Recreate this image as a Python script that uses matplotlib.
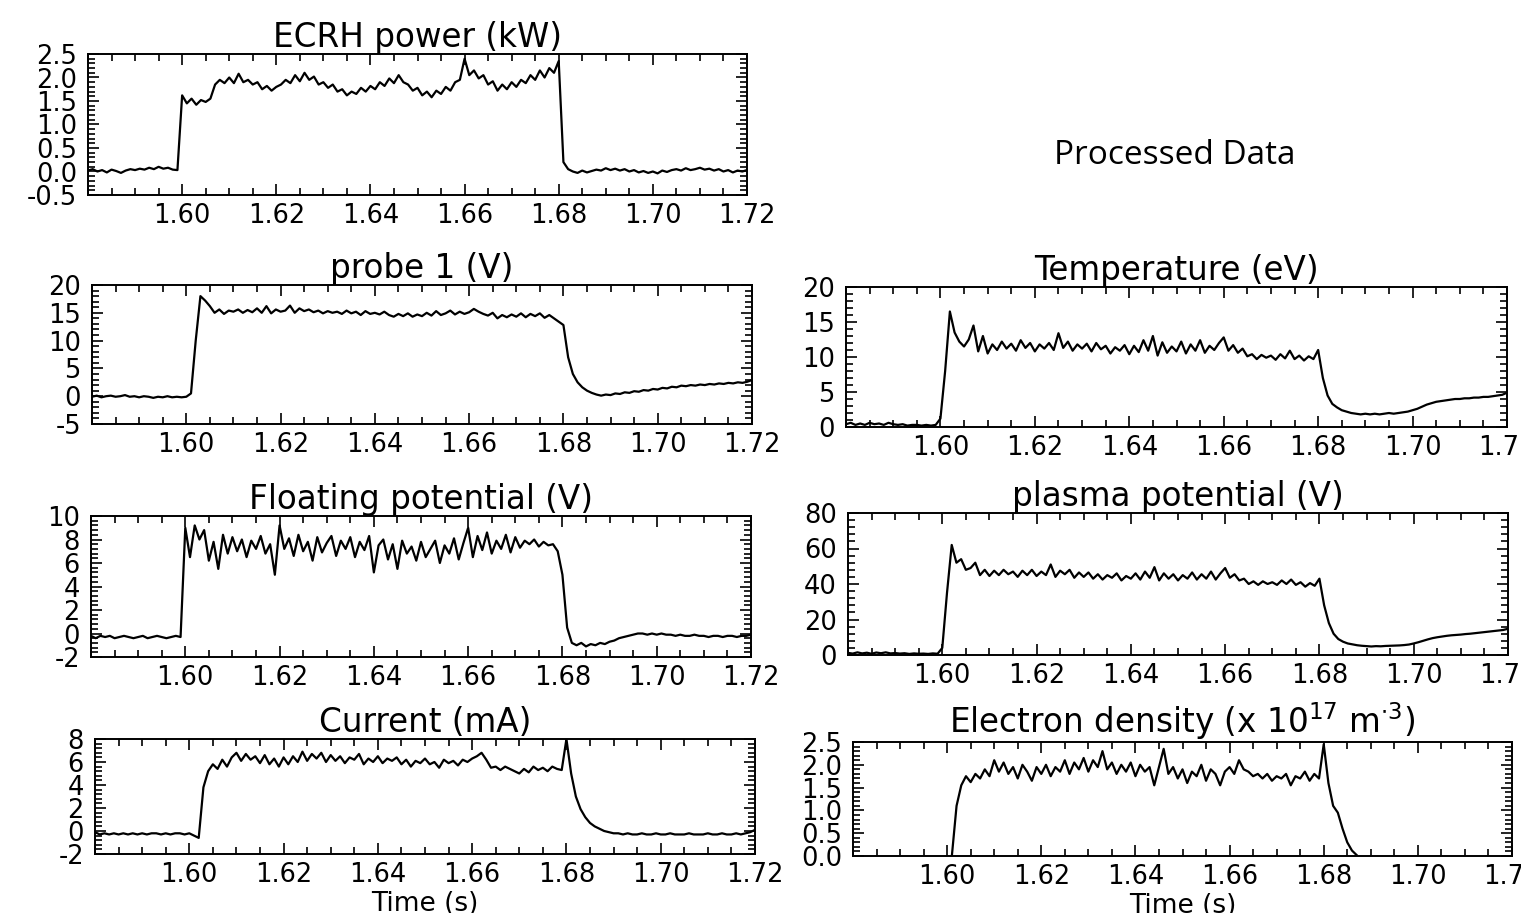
import numpy as np
import matplotlib
matplotlib.use("Agg")
import matplotlib.pyplot as plt
from matplotlib.ticker import AutoMinorLocator, MultipleLocator

nan = np.nan

# sampling grid: 1.580 s .. 1.720 s, one value per ms
t_start = 1.580
t_step = 0.001
xticks = [1.60, 1.62, 1.64, 1.66, 1.68, 1.70, 1.72]

# ECRH power (kW)
ecrh = [
    0.02, 0.05, 0.00, 0.03, -0.02, 0.04, 0.01, -0.03, 0.02, 0.05,   # 1.580
    0.03, 0.06, 0.04, 0.08, 0.05, 0.10, 0.06, 0.08, 0.04, 0.03,     # 1.590
    1.62, 1.45, 1.55, 1.42, 1.52, 1.48, 1.55, 1.85, 1.95, 1.88,     # 1.600
    2.00, 1.88, 2.08, 1.90, 1.95, 1.85, 1.90, 1.75, 1.82, 1.72,     # 1.610
    1.80, 1.85, 1.95, 1.88, 2.05, 1.92, 2.10, 1.95, 2.02, 1.85,     # 1.620
    1.90, 1.78, 1.85, 1.70, 1.75, 1.62, 1.70, 1.65, 1.78, 1.70,     # 1.630
    1.82, 1.75, 1.90, 1.82, 1.98, 1.88, 2.05, 1.90, 1.85, 1.72,     # 1.640
    1.78, 1.62, 1.70, 1.58, 1.72, 1.65, 1.80, 1.72, 1.90, 1.95,     # 1.650
    2.40, 2.05, 2.15, 1.98, 2.05, 1.85, 1.92, 1.72, 1.85, 1.75,     # 1.660
    1.90, 1.80, 1.95, 1.88, 2.05, 1.95, 2.15, 2.00, 2.20, 2.10,     # 1.670
    2.35, 0.20, 0.05, 0.00, -0.03, 0.02, -0.02, 0.01, 0.04, 0.02,   # 1.680
    0.07, 0.03, 0.06, 0.02, 0.05, 0.00, 0.03, -0.02, 0.01, -0.03,   # 1.690
    0.00, -0.04, 0.02, -0.01, 0.03, 0.05, 0.02, 0.07, 0.03, 0.05,   # 1.700
    0.08, 0.04, 0.06, 0.02, 0.05, 0.00, 0.03, -0.02, 0.02, 0.00,    # 1.710
    0.03,
]

# probe 1 (V)
probe1 = [
    -0.1, 0.1, -0.2, 0.0, 0.1, -0.1, 0.0, 0.2, -0.1, 0.0,
    -0.2, 0.0, -0.1, -0.3, -0.1, -0.2, 0.0, -0.2, -0.1, -0.2,
    -0.1, 0.5, 10.0, 18.0, 17.2, 16.2, 15.0, 15.6, 14.8, 15.4,
    15.2, 15.6, 15.0, 15.5, 15.1, 15.8, 15.0, 16.2, 14.9, 15.6,
    15.2, 15.4, 16.3, 15.0, 15.8, 15.3, 15.6, 15.1, 15.4, 14.9,
    15.3, 15.0, 15.2, 14.8, 15.4, 14.9, 15.2, 14.6, 15.3, 14.8,
    15.0, 14.7, 15.2, 14.6, 14.3, 14.8, 14.4, 14.9, 14.3, 14.7,
    14.4, 15.0, 14.5, 15.3, 14.6, 14.9, 15.4, 14.7, 15.2, 14.8,
    15.1, 15.7, 15.2, 14.8, 14.5, 15.0, 14.0, 14.6, 14.2, 14.7,
    14.3, 14.9, 14.2, 14.8, 14.4, 14.9, 14.1, 14.6, 14.0, 13.4,
    12.8, 7.0, 4.0, 2.5, 1.6, 1.0, 0.6, 0.3, 0.1, 0.3,
    0.2, 0.5, 0.4, 0.7, 0.6, 0.9, 0.8, 1.1, 1.0, 1.3,
    1.2, 1.5, 1.4, 1.7, 1.6, 1.9, 1.8, 2.0, 1.9, 2.1,
    2.0, 2.2, 2.1, 2.3, 2.2, 2.4, 2.3, 2.5, 2.4, 2.6,
    2.9,
]

# Floating potential (V)
floating = [
    -0.2, -0.4, -0.2, -0.3, -0.2, -0.4, -0.3, -0.2, -0.3, -0.4,
    -0.3, -0.2, -0.4, -0.3, -0.2, -0.3, -0.4, -0.3, -0.2, -0.3,
    9.0, 6.5, 9.2, 8.0, 8.8, 6.2, 7.8, 5.5, 8.4, 6.8,
    8.2, 7.0, 8.0, 6.5, 7.9, 7.2, 8.3, 6.8, 7.6, 5.0,
    9.2, 7.2, 8.1, 6.6, 8.4, 7.0, 7.8, 6.2, 8.2, 6.9,
    7.7, 8.3, 6.6, 7.9, 7.2, 8.2, 6.5, 7.8, 7.1, 8.3,
    5.2, 7.5, 8.0, 6.3, 7.6, 5.5, 7.9, 6.8, 7.4, 6.2,
    7.8, 6.5, 7.2, 7.9, 6.0, 7.5, 6.8, 8.1, 6.3, 7.7,
    9.0, 6.5, 8.3, 7.1, 8.6, 6.8, 7.9, 7.2, 8.4, 6.9,
    8.2, 7.3, 7.9, 7.6, 8.0, 7.4, 7.8, 7.5, 7.6, 7.0,
    5.0, 0.5, -0.8, -1.0, -0.8, -1.1, -0.9, -1.0, -0.8, -0.9,
    -0.7, -0.6, -0.4, -0.3, -0.2, -0.1, 0.0, 0.0, -0.1, 0.0,
    -0.1, 0.0, -0.1, -0.1, -0.2, -0.1, -0.2, -0.2, -0.1, -0.2,
    -0.2, -0.3, -0.2, -0.2, -0.3, -0.2, -0.2, -0.3, -0.2, -0.2,
    -0.1,
]

# Current (mA)
current = [
    -0.1, -0.3, -0.2, -0.3, -0.2, -0.3, -0.2, -0.3, -0.2, -0.3,
    -0.2, -0.3, -0.2, -0.2, -0.3, -0.2, -0.3, -0.2, -0.2, -0.3,
    -0.2, -0.4, -0.6, 3.8, 5.2, 5.8, 5.4, 6.2, 5.6, 6.4,
    6.8, 6.1, 6.7, 6.2, 6.5, 5.9, 6.6, 5.8, 6.3, 5.6,
    6.4, 5.8, 6.5, 6.0, 6.9, 6.1, 6.7, 6.3, 6.8, 6.0,
    6.6, 6.1, 6.5, 5.9, 6.4, 6.2, 6.7, 5.8, 6.3, 6.0,
    6.5, 5.9, 6.3, 6.1, 6.4, 5.8, 6.2, 5.6, 6.1, 5.9,
    6.3, 5.8, 6.0, 5.5, 6.2, 5.9, 6.1, 5.7, 6.2, 6.0,
    6.3, 6.5, 6.8, 6.2, 5.5, 5.6, 5.3, 5.6, 5.4, 5.2,
    5.0, 5.4, 5.1, 5.6, 5.3, 5.5, 5.2, 5.6, 5.4, 5.3,
    8.0, 5.0, 3.0, 1.9, 1.2, 0.7, 0.4, 0.2, 0.0, -0.1,
    -0.2, -0.2, -0.3, -0.2, -0.3, -0.3, -0.2, -0.3, -0.3, -0.2,
    -0.3, -0.3, -0.2, -0.3, -0.3, -0.3, -0.2, -0.3, -0.3, -0.3,
    -0.2, -0.3, -0.3, -0.2, -0.3, -0.3, -0.2, -0.3, -0.2, -0.1,
    0.1,
]

# Temperature (eV)
temperature = [
    0.4, 0.6, 0.3, 0.5, 0.3, 0.6, 0.4, 0.5, 0.3, 0.6,
    0.4, 0.3, 0.4, 0.2, 0.3, 0.3, 0.2, 0.3, 0.2, 0.3,
    1.2, 8.0, 16.5, 13.5, 12.2, 11.5, 12.5, 14.5, 10.8, 13.0,
    10.5, 11.8, 11.0, 12.2, 11.2, 11.9, 10.9, 12.4, 11.3, 12.0,
    10.8, 11.8, 11.2, 12.0, 11.0, 13.4, 11.3, 12.2, 10.9, 11.8,
    11.2, 11.9, 10.8, 12.0, 11.1, 11.6, 10.5, 11.4, 10.9, 11.7,
    10.4, 11.6, 10.7, 12.4, 10.9, 13.0, 10.2, 12.1, 10.6, 11.5,
    10.8, 12.2, 10.5, 11.8, 10.9, 12.4, 10.6, 11.6, 11.0, 12.0,
    12.8, 10.9, 11.7, 10.6, 11.2, 10.1, 10.4, 9.7, 10.3, 9.9,
    10.2, 9.6, 10.4, 9.8, 10.9, 9.7, 10.2, 9.5, 10.1, 9.7,
    11.0, 7.0, 4.5, 3.3, 2.8, 2.4, 2.2, 2.0, 1.9, 1.8,
    1.9, 1.8, 1.9, 1.8, 1.9, 2.0, 1.9, 2.0, 2.1, 2.2,
    2.4, 2.6, 2.9, 3.2, 3.4, 3.6, 3.7, 3.8, 3.9, 4.0,
    4.0, 4.1, 4.1, 4.2, 4.2, 4.3, 4.3, 4.4, 4.5, 4.6,
    4.9,
]

# plasma potential (V)
plasma = [
    1.2, 0.8, 1.5, 0.9, 1.3, 0.7, 1.4, 1.0, 1.5, 0.9,
    1.1, 0.8, 1.0, 0.6, 0.9, 0.7, 0.8, 0.6, 0.9, 0.7,
    4.0, 35.0, 62.0, 52.0, 54.0, 48.0, 49.0, 52.0, 45.0, 48.0,
    44.5, 47.5, 45.0, 48.0, 45.5, 47.0, 44.0, 47.5, 45.0, 48.0,
    44.5, 47.0, 45.0, 51.0, 44.0, 47.5, 45.5, 48.0, 43.5, 46.5,
    44.0, 46.5, 43.0, 45.5, 42.5, 45.0, 43.5, 46.0, 42.0, 44.5,
    43.0, 46.0, 42.5, 47.0, 43.5, 49.5, 42.0, 46.0, 43.0, 45.5,
    42.0, 45.0, 43.0, 46.5, 42.5, 45.5, 43.0, 47.0, 42.5, 46.0,
    49.0, 43.5, 45.5, 42.0, 43.0, 40.0, 41.5, 39.5, 41.5, 40.0,
    41.0, 39.5, 42.0, 40.0, 42.5, 39.5, 41.0, 38.5, 40.5, 39.0,
    43.0, 28.0, 18.0, 12.0, 9.0, 7.5, 6.5, 6.0, 5.5, 5.2,
    5.0, 4.8, 5.0, 4.9, 5.1, 5.2, 5.3, 5.4, 5.6, 5.9,
    6.5, 7.2, 8.0, 8.8, 9.5, 10.0, 10.4, 10.8, 11.1, 11.3,
    11.5, 11.8, 12.0, 12.3, 12.6, 12.9, 13.2, 13.5, 13.8, 14.1,
    14.8,
]

# Electron density (x 10^17 m^-3)
density = [
    nan, nan, nan, nan, nan, nan, nan, nan, nan, nan,
    nan, nan, nan, nan, nan, nan, nan, nan, nan, nan,
    nan, 0.00, 1.10, 1.55, 1.75, 1.62, 1.80, 1.70, 1.90, 1.75,
    2.10, 1.85, 2.05, 1.80, 1.95, 1.70, 2.00, 1.85, 1.65, 1.95,
    1.80, 2.00, 1.75, 1.95, 1.85, 2.10, 1.80, 2.05, 1.90, 2.15,
    1.85, 2.10, 1.95, 2.30, 1.90, 2.05, 1.80, 2.00, 1.85, 2.05,
    1.75, 2.00, 1.85, 1.95, 1.55, 1.95, 2.35, 1.80, 1.95, 1.70,
    1.90, 1.60, 1.85, 1.75, 2.00, 1.65, 1.90, 1.80, 1.55, 1.85,
    1.95, 1.80, 2.10, 1.90, 1.85, 1.75, 1.80, 1.70, 1.80, 1.65,
    1.75, 1.70, 1.80, 1.55, 1.75, 1.70, 1.85, 1.65, 1.80, 1.70,
    2.45, 1.60, 1.10, 0.95, 0.60, 0.30, 0.12, 0.02, nan, nan,
    nan, nan, nan, nan, nan, nan, nan, nan, nan, nan,
    nan, nan, nan, nan, nan, nan, nan, nan, nan, nan,
    nan, nan, nan, nan, nan, nan, nan, nan, nan, nan,
    nan,
]

W, H = 1521, 913
plt.rcParams['font.family'] = ['DejaVu Sans']
plt.rcParams['axes.unicode_minus'] = False

fig = plt.figure(figsize=(W / 100, H / 100), dpi=100)

# (title, values, ylim, ytick step, box in pixels: left, right, top, bottom)
panels = [
    ("ECRH power (kW)", ecrh, (-0.5, 2.5), 0.5, (88, 747, 54, 195)),
    ("probe 1 (V)", probe1, (-5, 20), 5, (92, 752, 285, 424)),
    ("Floating potential (V)", floating, (-2, 10), 2, (91, 751, 516, 657)),
    ("Current (mA)", current, (-2, 8), 2, (95, 755, 739, 854)),
    ("Temperature (eV)", temperature, (0, 20), 5, (846, 1507, 287, 427)),
    ("plasma potential (V)", plasma, (0, 80), 20, (848, 1508, 513, 655)),
    (r"Electron density (x 10$^{17}$ m$^{\cdot3}$)", density, (0, 2.5), 0.5,
     (853, 1512, 742, 856)),
]

for title, vals, ylim, ystep, (l, r, top, bot) in panels:
    ax = fig.add_axes([l / W, 1 - bot / H, (r - l) / W, (bot - top) / H])
    time = t_start + t_step * np.arange(len(vals))
    ax.plot(time, vals, color='black', lw=1.6)
    ax.set_xlim(1.58, 1.72)
    ax.set_ylim(*ylim)
    ax.set_xticks(xticks)
    ax.xaxis.set_major_formatter(matplotlib.ticker.FormatStrFormatter('%.2f'))
    ax.yaxis.set_major_locator(MultipleLocator(ystep))
    if ystep < 1:
        ax.yaxis.set_major_formatter(matplotlib.ticker.FormatStrFormatter('%.1f'))
    else:
        ax.yaxis.set_major_formatter(matplotlib.ticker.FormatStrFormatter('%d'))
    ax.xaxis.set_minor_locator(AutoMinorLocator(4))
    ax.yaxis.set_minor_locator(AutoMinorLocator(5))
    ax.tick_params(which='both', direction='in', top=True, right=True,
                   width=1.2, labelsize=18.5)
    ax.tick_params(axis='x', which='both', pad=6)
    ax.tick_params(axis='y', which='both', pad=8)
    ax.tick_params(which='major', length=8)
    ax.tick_params(which='minor', length=5)
    for s in ax.spines.values():
        s.set_linewidth(1.4)
    ax.set_title(title, fontsize=23.5, pad=1)
    if title.startswith("Current") or title.startswith("Electron"):
        ax.set_xlabel("Time (s)", fontsize=19, labelpad=2)

fig.text(1175 / W, 1 - 155 / H, "Processed Data", fontsize=24,
         family=['Open Sans', 'DejaVu Sans'], ha='center', va='center')

fig.savefig("out.png", dpi=100)
